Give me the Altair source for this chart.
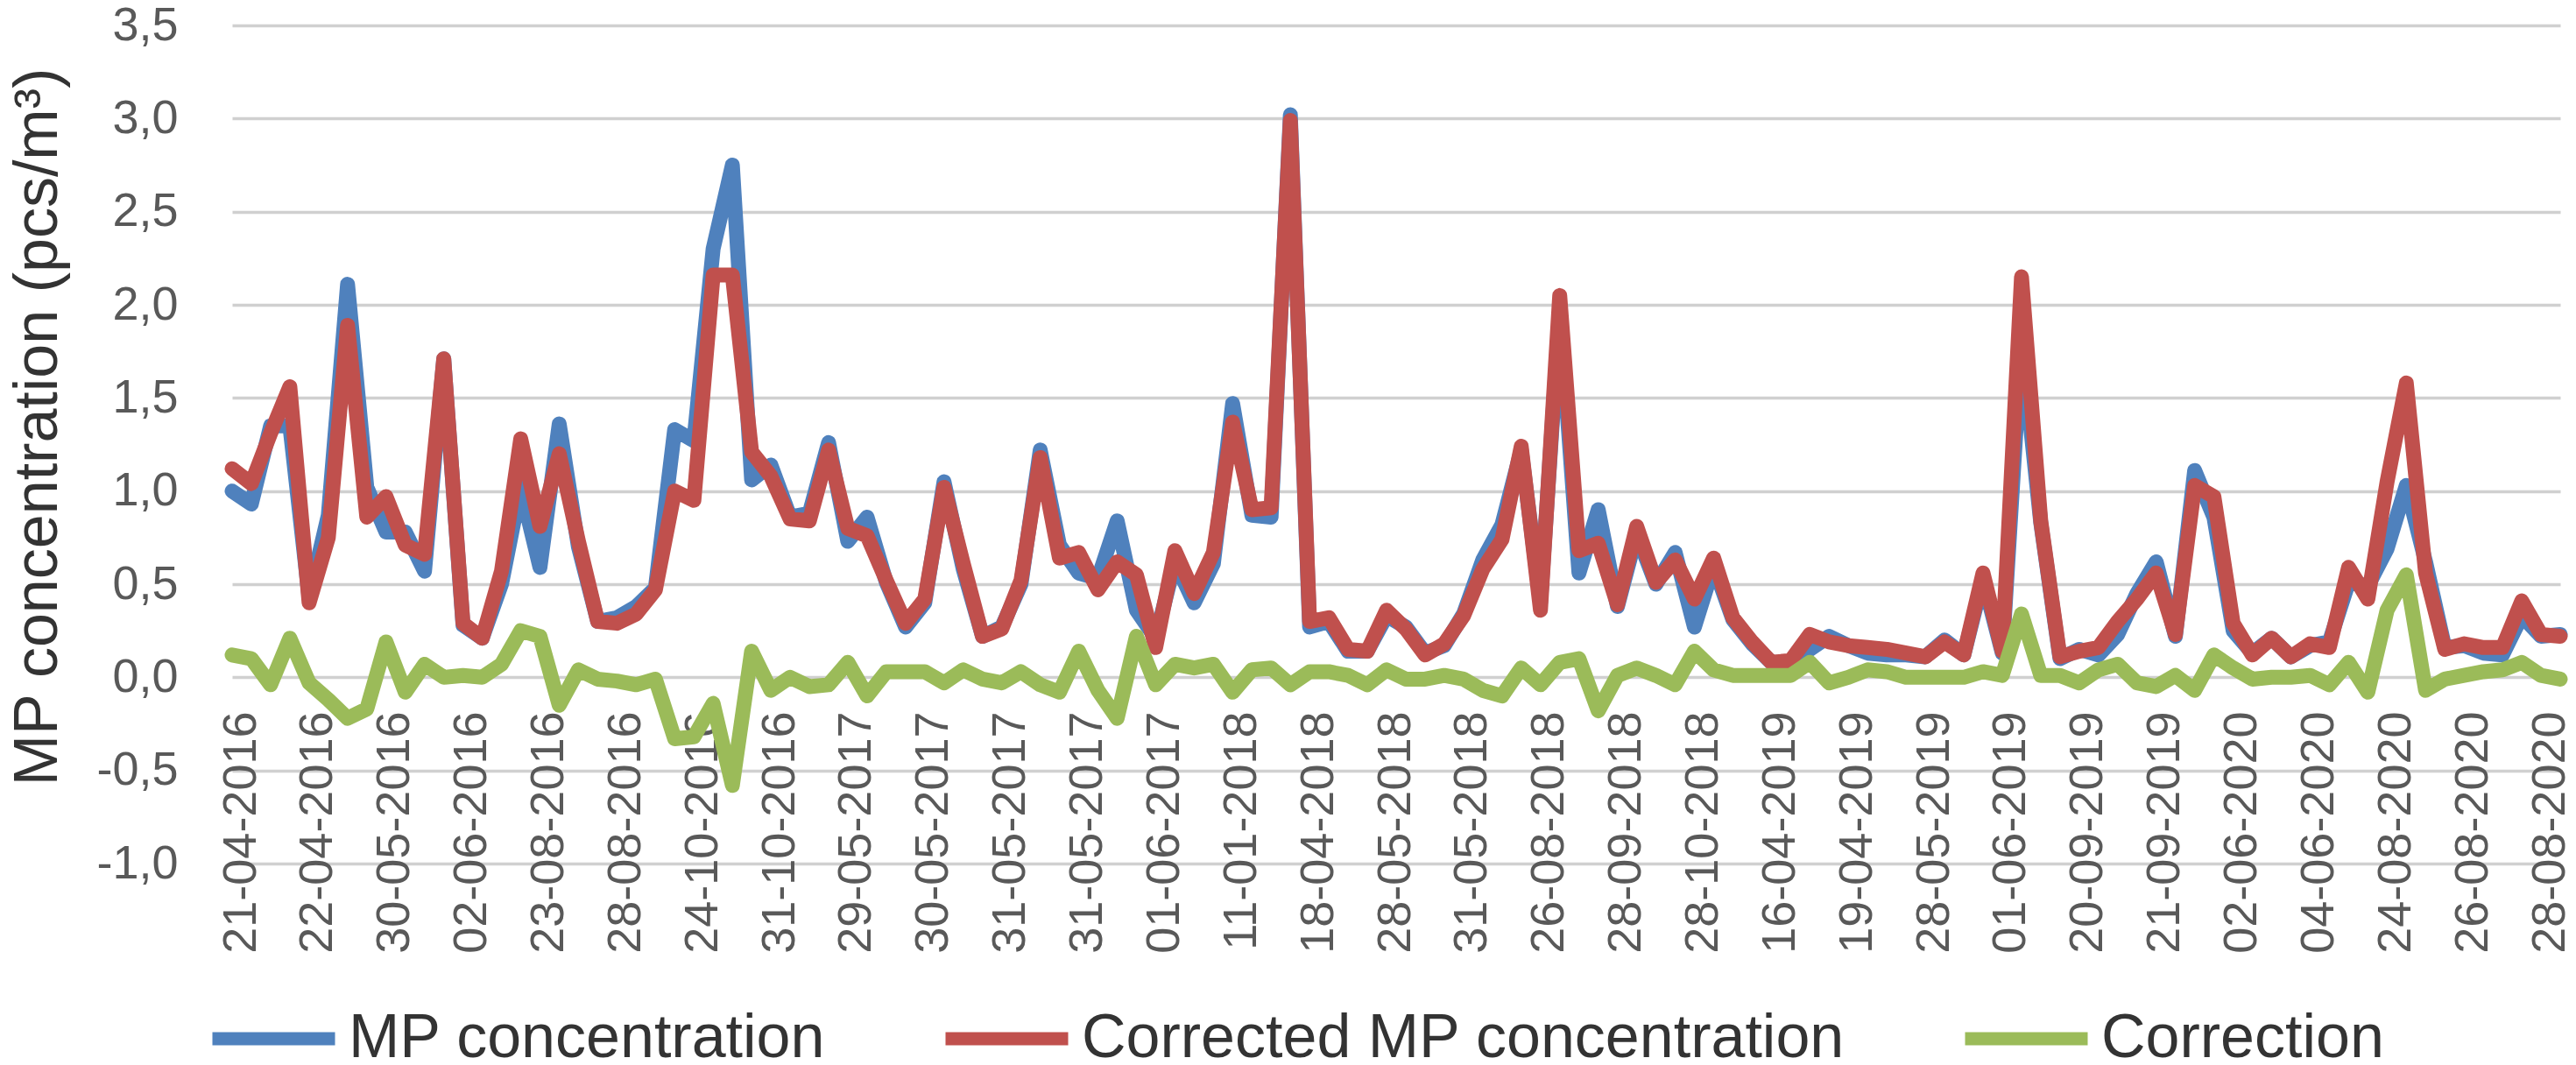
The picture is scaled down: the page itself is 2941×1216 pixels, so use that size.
import altair as alt
import pandas as pd

# ---- data ----
labels = ["21-04-2016", "22-04-2016", "30-05-2016", "02-06-2016", "23-08-2016",
          "28-08-2016", "24-10-2016", "31-10-2016", "29-05-2017", "30-05-2017",
          "31-05-2017", "31-05-2017", "01-06-2017", "11-01-2018", "18-04-2018",
          "28-05-2018", "31-05-2018", "26-08-2018", "28-09-2018", "28-10-2018",
          "16-04-2019", "19-04-2019", "28-05-2019", "01-06-2019", "20-09-2019",
          "21-09-2019", "02-06-2020", "04-06-2020", "24-08-2020", "26-08-2020",
          "28-08-2020"]

mp = [1.00, 0.93, 1.35, 1.35, 0.43, 0.87, 2.11, 1.02, 0.78, 0.78,
      0.57, 1.71, 0.28, 0.21, 0.50, 1.02, 0.59, 1.36, 0.70, 0.30,
      0.32, 0.38, 0.48, 1.33, 1.27, 2.30, 2.75, 1.06, 1.14, 0.86,
      0.88, 1.26, 0.73, 0.86, 0.51, 0.27, 0.40, 1.05, 0.58, 0.22,
      0.27, 0.50, 1.22, 0.71, 0.56, 0.53, 0.84, 0.36, 0.21, 0.62,
      0.40, 0.61, 1.47, 0.87, 0.86, 3.02, 0.27, 0.30, 0.14, 0.14,
      0.33, 0.27, 0.13, 0.17, 0.34, 0.63, 0.82, 1.22, 0.40, 1.97,
      0.56, 0.90, 0.38, 0.77, 0.50, 0.67, 0.27, 0.60, 0.31, 0.18,
      0.08, 0.08, 0.15, 0.22, 0.17, 0.13, 0.12, 0.12, 0.11, 0.20,
      0.12, 0.53, 0.13, 1.81, 0.83, 0.10, 0.15, 0.12, 0.23, 0.45,
      0.62, 0.22, 1.11, 0.86, 0.25, 0.13, 0.21, 0.11, 0.17, 0.19,
      0.51, 0.49, 0.69, 1.03, 0.62, 0.16, 0.17, 0.13, 0.12, 0.33,
      0.22, 0.23]

corrected = [1.12, 1.04, 1.31, 1.56, 0.40, 0.75, 1.89, 0.86, 0.97, 0.71,
             0.66, 1.71, 0.29, 0.21, 0.57, 1.28, 0.81, 1.20, 0.73, 0.30,
             0.29, 0.34, 0.47, 1.00, 0.95, 2.16, 2.16, 1.21, 1.08, 0.85,
             0.84, 1.22, 0.80, 0.76, 0.52, 0.29, 0.42, 1.02, 0.61, 0.22,
             0.26, 0.52, 1.18, 0.64, 0.67, 0.47, 0.62, 0.55, 0.16, 0.68,
             0.45, 0.67, 1.37, 0.90, 0.91, 2.99, 0.30, 0.32, 0.15, 0.14,
             0.36, 0.26, 0.12, 0.18, 0.33, 0.58, 0.74, 1.24, 0.36, 2.05,
             0.68, 0.72, 0.39, 0.81, 0.51, 0.63, 0.42, 0.64, 0.32, 0.19,
             0.08, 0.09, 0.23, 0.19, 0.17, 0.16, 0.15, 0.13, 0.11, 0.19,
             0.12, 0.56, 0.14, 2.15, 0.84, 0.11, 0.14, 0.16, 0.30, 0.42,
             0.56, 0.23, 1.03, 0.97, 0.29, 0.12, 0.21, 0.11, 0.18, 0.16,
             0.59, 0.42, 1.05, 1.58, 0.56, 0.15, 0.18, 0.16, 0.16, 0.41,
             0.23, 0.22]

correction = [0.12, 0.10, -0.04, 0.21, -0.03, -0.12, -0.22, -0.17, 0.19, -0.08,
              0.07, 0.00, 0.01, 0.00, 0.07, 0.25, 0.22, -0.15, 0.04, -0.01,
              -0.02, -0.04, -0.01, -0.33, -0.32, -0.14, -0.58, 0.14, -0.07, 0.00,
              -0.05, -0.04, 0.08, -0.10, 0.03, 0.03, 0.03, -0.03, 0.04, -0.01,
              -0.03, 0.03, -0.04, -0.08, 0.14, -0.07, -0.22, 0.22, -0.04, 0.07,
              0.05, 0.07, -0.08, 0.04, 0.05, -0.04, 0.03, 0.03, 0.01, -0.04,
              0.04, -0.01, -0.01, 0.01, -0.01, -0.07, -0.10, 0.05, -0.04, 0.08,
              0.10, -0.18, 0.01, 0.05, 0.01, -0.04, 0.14, 0.04, 0.01, 0.01,
              0.01, 0.01, 0.08, -0.03, 0.00, 0.04, 0.03, 0.00, 0.00, 0.00,
              0.00, 0.03, 0.01, 0.34, 0.01, 0.01, -0.03, 0.04, 0.07, -0.03,
              -0.05, 0.01, -0.07, 0.12, 0.05, -0.01, 0.00, 0.00, 0.01, -0.04,
              0.08, -0.08, 0.36, 0.55, -0.07, -0.01, 0.01, 0.03, 0.04, 0.08,
              0.01, -0.01]

series_names = ["MP concentration", "Corrected MP concentration", "Correction"]
series_colors = ["#4F81BD", "#C0504D", "#9BBB59"]
y_ticks = [-1.0, -0.5, 0.0, 0.5, 1.0, 1.5, 2.0, 2.5, 3.0, 3.5]
label_step = 4

# ---- long table built from the arrays ----
rows = []
for name, vals in zip(series_names, [mp, corrected, correction]):
    for i, v in enumerate(vals):
        rows.append({"idx": i, "value": v, "series": name})
df = pd.DataFrame(rows)

n = len(mp)
label_js = "[" + ",".join("'" + s + "'" for s in labels) + "]"
FONT = "Liberation Sans"

x_enc = alt.X(
    "idx:Q",
    scale=alt.Scale(domain=[0, n - 1], nice=False, zero=False),
    axis=alt.Axis(
        values=list(range(0, n, label_step)),
        labelExpr=label_js + "[round(datum.value / " + str(label_step) + ")]",
        labelAngle=-90,
        labelFontSize=54,
        labelFont=FONT,
        labelColor="#595959",
        labelPadding=39,
        labelOffset=10,
        labelLimit=600,
        labelFlush=False,
        labelOverlap=False,
        ticks=False,
        tickSize=0,
        domain=False,
        grid=False,
        offset=-213,
        title=None,
    ),
)

y_enc = alt.Y(
    "value:Q",
    scale=alt.Scale(domain=[-1.0, 3.5], nice=False, zero=False),
    axis=alt.Axis(
        values=y_ticks,
        labelExpr="replace(replace(format(datum.value, '.1f'), '.', ','), '\u2212', '-')",
        labelFontSize=54,
        labelFont=FONT,
        labelColor="#595959",
        labelPadding=62,
        ticks=False,
        tickSize=0,
        domain=False,
        grid=True,
        gridColor="#D0D0D0",
        gridWidth=3.5,
        title="MP concentration (pcs/m\u00b3)",
        titleFont=FONT,
        titleFontSize=70,
        titleFontWeight="normal",
        titleColor="#333333",
        titleAngle=270,
        titleAlign="center",
        titleBaseline="alphabetic",
        titleX=-201,
        titleY=458,
    ),
)

color_enc = alt.Color(
    "series:N",
    scale=alt.Scale(domain=series_names, range=series_colors),
    legend=alt.Legend(
        title=None,
        orient="none",
        legendX=-30,
        legendY=1122,
        direction="horizontal",
        symbolType="stroke",
        symbolSize=19600,
        symbolStrokeWidth=15,
        clipHeight=70,
        labelFontSize=70,
        labelFont=FONT,
        labelColor="#333333",
        labelOffset=8,
        columnPadding=129,
        padding=0,
        labelLimit=2000,
    ),
)

layers = []
for name in series_names:
    layers.append(
        alt.Chart(df)
        .transform_filter(alt.datum.series == name)
        .mark_line(strokeWidth=17, strokeJoin="round", strokeCap="round")
        .encode(x=x_enc, y=y_enc, color=color_enc)
    )

chart = (
    alt.layer(*layers)
    .properties(
        width=2658,
        height=957,
        autosize=alt.AutoSizeParams(type="none"),
        padding={"left": 257, "top": 21, "right": 10, "bottom": 222},
        background="white",
    )
    .configure_view(stroke="transparent")
)

chart.save("out.html", embed_options={"renderer": "svg", "actions": False})
